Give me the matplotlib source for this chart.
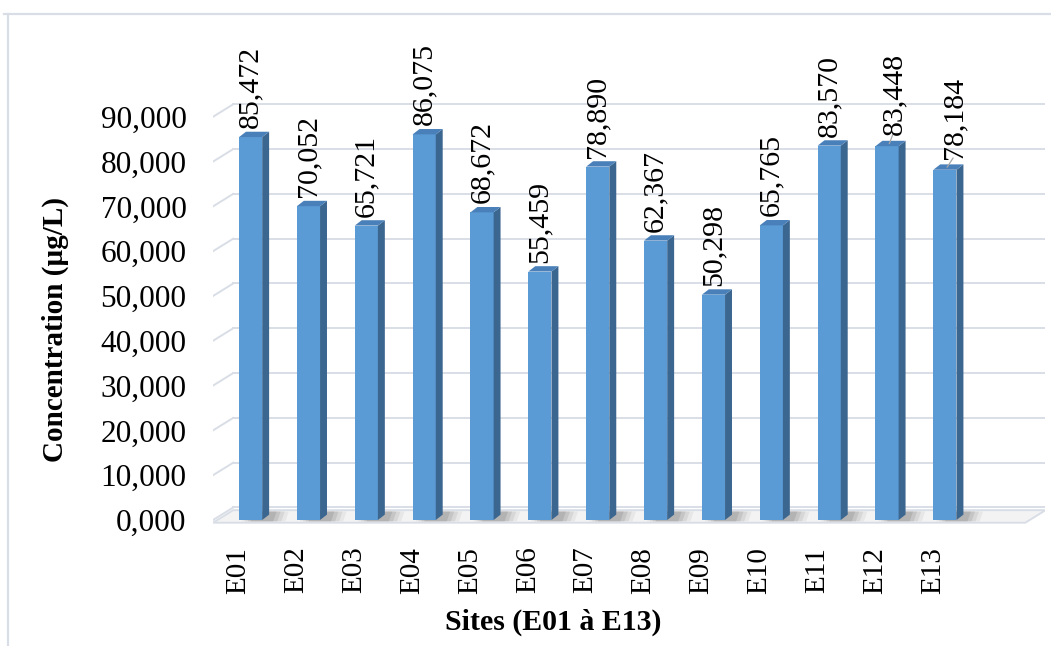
import matplotlib
matplotlib.use("Agg")
import matplotlib.pyplot as plt
from matplotlib.patches import Polygon
from matplotlib.lines import Line2D
import numpy as np

plt.rcParams['font.family'] = ['Liberation Serif', 'DejaVu Serif']

# données : concentration par site
sites = ['E01', 'E02', 'E03', 'E04', 'E05', 'E06', 'E07',
         'E08', 'E09', 'E10', 'E11', 'E12', 'E13']
concentrations = [85.472, 70.052, 65.721, 86.075, 68.672, 55.459, 78.890,
                  62.367, 50.298, 65.765, 83.570, 83.448, 78.184]
y_ticks = [0, 10, 20, 30, 40, 50, 60, 70, 80, 90]


def fr(v):
    # format français : virgule décimale
    return f"{v:.3f}".replace('.', ',')


# couleurs façon Excel 3D
FRONT = '#5B9BD5'
SIDE = '#3B6690'
TOP = '#4A80B9'
GRID = '#D9DEE6'

# profondeur (unités de données)
BW = 0.40      # largeur de la face avant
DX, DY = 0.12, 1.2      # profondeur des barres
WX, WY = 0.35, 2.8      # profondeur du mur / sol
X0, X1 = -0.65, 13.39   # bords avant du sol

fig = plt.figure(figsize=(10.51, 6.46), dpi=100)
ax = fig.add_axes([213 / 1051, 116 / 646, 832 / 1051, 435 / 646])
ax.set_xlim(-0.65, 13.73)
ax.set_ylim(-2.23, 94.87)
for s in ax.spines.values():
    s.set_visible(False)
ax.set_facecolor('none')

x = np.arange(len(sites))
vals = np.array(concentrations)

# sol
floor = Polygon([(X0, -0.6), (X1, -0.6), (X1 + WX, -0.6 + WY), (X0 + WX, -0.6 + WY)],
                closed=True, facecolor='#F3F3F3', edgecolor=GRID, lw=1.4, zorder=1)
ax.add_patch(floor)

# grilles du mur du fond + diagonales du mur latéral
for v in y_ticks:
    ax.plot([X0 + WX, X1 + WX], [v + WY, v + WY], color=GRID, lw=1.4, zorder=0.5)
    ax.plot([X0, X0 + WX], [v, v + WY], color=GRID, lw=1.4, zorder=0.5)

# ombres sur le sol (dégradé approximatif)
for c in x:
    for k, a in enumerate([0.10, 0.15, 0.20, 0.25]):
        sh = Polygon([(c - 0.15 + k * 0.05, -0.3), (c + 0.60 - k * 0.07, -0.3),
                      (c + 0.66 - k * 0.07, 1.9), (c - 0.08 + k * 0.05, 1.9)],
                     closed=True, facecolor='#7F7F7F', edgecolor='none',
                     alpha=a, zorder=1.5)
        ax.add_patch(sh)

# barres : face avant
ax.bar(x, vals, width=BW, color=FRONT, edgecolor='none', zorder=3)

# faces latérales et supérieures
for c, v in zip(x, vals):
    r = c + BW / 2
    l = c - BW / 2
    ax.add_patch(Polygon([(r, 0), (r + DX, DY), (r + DX, v + DY), (r, v)],
                         closed=True, facecolor=SIDE, edgecolor='none', zorder=3))
    ax.add_patch(Polygon([(l, v), (r, v), (r + DX, v + DY), (l + DX, v + DY)],
                         closed=True, facecolor=TOP, edgecolor='none', zorder=3))

# étiquettes de valeurs (E12 et E13 légèrement déplacées avec repère)
lab_dx = [0] * 11 + [0.12, 0.16]
lab_dy = [2.0] * 11 + [2.5, 2.5]
for c, v, dx, dy in zip(x, vals, lab_dx, lab_dy):
    ax.text(c + dx, v + dy, fr(v), rotation=90, ha='center', va='bottom',
            fontsize=21.5, color='black', zorder=5)
    if dx:
        ax.add_line(Line2D([c + 0.04, c + dx - 0.02], [v + 0.6, v + dy + 0.1],
                           color='#A6A6A6', lw=0.9, zorder=4))

# axes
ax.set_yticks(y_ticks)
ax.set_yticklabels([fr(v) for v in y_ticks], fontsize=22.5)
ax.set_xticks(x - 0.21)
ax.set_xticklabels(sites, rotation=90, fontsize=21)
ax.tick_params(axis='y', length=0, pad=19)
ax.tick_params(axis='x', length=0, pad=12)

fig.text(55 / 1051, 1 - 330 / 646, 'Concentration (µg/L)', rotation=90,
         ha='center', va='center', fontsize=21, fontweight='bold')
fig.text(553 / 1051, 1 - 622 / 646, 'Sites (E01 à E13)',
         ha='center', va='center', fontsize=21.5, fontweight='bold')

# cadre du graphique
fig.add_artist(Line2D([4 / 1051, 1], [1 - 14 / 646, 1 - 14 / 646],
                      color=GRID, lw=1.6, transform=fig.transFigure))
fig.add_artist(Line2D([8 / 1051, 8 / 1051], [0, 1 - 14 / 646],
                      color=GRID, lw=1.6, transform=fig.transFigure))

fig.savefig('out.png', dpi=100)
